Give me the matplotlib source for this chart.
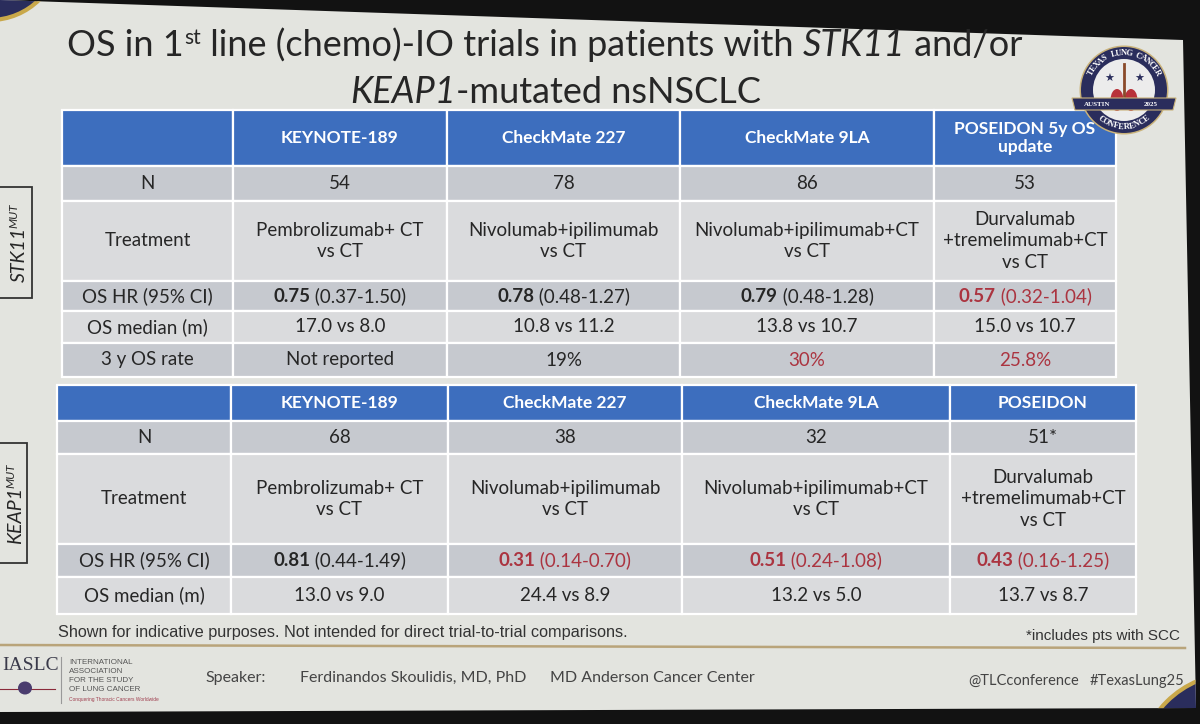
import numpy as np
import matplotlib
matplotlib.use("Agg")
import matplotlib.pyplot as plt
from matplotlib.patches import Rectangle, Polygon, Circle, Ellipse

FONT = ['Lato', 'DejaVu Sans']

# ---- data ----
row_labels_stk11 = ["N", "Treatment", "OS HR (95% CI)", "OS median (m)", "3 y OS rate"]
row_labels_keap1 = ["N", "Treatment", "OS HR (95% CI)", "OS median (m)"]

trials_stk11 = ["KEYNOTE-189", "CheckMate 227", "CheckMate 9LA", "POSEIDON 5y OS\nupdate"]
trials_keap1 = ["KEYNOTE-189", "CheckMate 227", "CheckMate 9LA", "POSEIDON"]

treatments = ["Pembrolizumab+ CT\nvs CT",
              "Nivolumab+ipilimumab\nvs CT",
              "Nivolumab+ipilimumab+CT\nvs CT",
              "Durvalumab\n+tremelimumab+CT\nvs CT"]

n_stk11 = ["54", "78", "86", "53"]
hr_stk11 = ["0.75", "0.78", "0.79", "0.57"]
ci_stk11 = ["0.37-1.50", "0.48-1.27", "0.48-1.28", "0.32-1.04"]
hr_red_stk11 = [False, False, False, True]
median_stk11 = ["17.0 vs 8.0", "10.8 vs 11.2", "13.8 vs 10.7", "15.0 vs 10.7"]
rate3y_stk11 = ["Not reported", "19%", "30%", "25.8%"]
rate3y_red_stk11 = [False, False, True, True]

n_keap1 = ["68", "38", "32", "51*"]
hr_keap1 = ["0.81", "0.31", "0.51", "0.43"]
ci_keap1 = ["0.44-1.49", "0.14-0.70", "0.24-1.08", "0.16-1.25"]
hr_red_keap1 = [False, True, True, True]
median_keap1 = ["13.0 vs 9.0", "24.4 vs 8.9", "13.2 vs 5.0", "13.7 vs 8.7"]

# ---- colours ----
BLUE = '#3d6ebe'
DARK_ROW = '#c6c9cf'
LIGHT_ROW = '#dadbdd'
SLIDE = '#e3e4df'
RED = '#ab3440'
TXT = '#262626'
NAVY = '#2a2d5c'
GOLD = '#c9a84a'

fig = plt.figure(figsize=(12, 7.24), dpi=100)
ax = fig.add_axes([0, 0, 1, 1])
ax.set_xlim(0, 1200)
ax.set_ylim(724, 0)
ax.axis('off')
fig.patch.set_facecolor('#121212')
renderer = fig.canvas.get_renderer()

# slide area (photo of a projected slide)
slide = Polygon([(0, 0), (1183, 40), (1196, 708), (0, 712)], closed=True,
                facecolor=SLIDE, edgecolor='none', zorder=0)
ax.add_patch(slide)
# corner decorations of the slide template
for cxy, rr in [((-10, -50), 70), ((1235, 770), 96.6)]:
    c = Circle(cxy, rr, facecolor=NAVY, edgecolor=GOLD, lw=3, zorder=0.5)
    ax.add_patch(c)
    c.set_clip_path(slide)


def seq(x, y, parts, size, ha='center', va='center'):
    # parts: (text, props, dy) drawn side by side on one line
    objs, widths = [], []
    for txt, props, dy in parts:
        kw = dict(fontsize=size, color=TXT, family=FONT)
        kw.update(props)
        t = ax.text(0, y + dy, txt, ha='left', va=va, zorder=5, **kw)
        widths.append(t.get_window_extent(renderer).width)
        objs.append(t)
    x0 = x - sum(widths) / 2 if ha == 'center' else x
    for t, wd in zip(objs, widths):
        t.set_x(x0)
        x0 += wd


def draw_table(cols, edges, trials, labels, n, hr, ci, hr_red, median,
               rate=None, rate_red=None):
    nrows = len(edges) - 1
    shades = [BLUE, DARK_ROW, LIGHT_ROW, DARK_ROW, LIGHT_ROW, DARK_ROW]
    for r in range(nrows):
        for c in range(len(cols) - 1):
            ax.add_patch(Rectangle((cols[c], edges[r]), cols[c + 1] - cols[c],
                                   edges[r + 1] - edges[r], facecolor=shades[r],
                                   edgecolor='white', lw=1.6, zorder=1))
    cx = [(cols[i] + cols[i + 1]) / 2 for i in range(len(cols) - 1)]
    cy = [(edges[i] + edges[i + 1]) / 2 for i in range(nrows)]
    for i, name in enumerate(trials):
        ax.text(cx[i + 1], cy[0], name, ha='center', va='center', color='white',
                fontsize=12.5, fontweight='bold', family=FONT, linespacing=1.1, zorder=5)
    for r, lab in enumerate(labels):
        ax.text(cx[0], cy[r + 1], lab, ha='center', va='center', color=TXT,
                fontsize=13.5, family=FONT, zorder=5)
    for i in range(len(trials)):
        ax.text(cx[i + 1], cy[1], n[i], ha='center', va='center', color=TXT,
                fontsize=13.5, family=FONT, zorder=5)
        ax.text(cx[i + 1], cy[2], treatments[i], ha='center', va='center', color=TXT,
                fontsize=13.5, family=FONT, linespacing=1.35, zorder=5)
        col = RED if hr_red[i] else TXT
        seq(cx[i + 1], cy[3], [(hr[i], dict(fontweight='bold', color=col), 0),
                               (" (" + ci[i] + ")", dict(color=col), 0)], 13.5)
        ax.text(cx[i + 1], cy[4], median[i], ha='center', va='center', color=TXT,
                fontsize=13.5, family=FONT, zorder=5)
        if rate is not None:
            ax.text(cx[i + 1], cy[5], rate[i], ha='center', va='center',
                    color=RED if rate_red[i] else TXT, fontsize=13.5, family=FONT, zorder=5)


def side_label(x, y, gene):
    t = ax.text(x, y, gene, rotation=90, ha='center', va='center', fontsize=14,
                style='italic', color=TXT, family=FONT, zorder=5)
    bb = t.get_window_extent(renderer)
    top = 724 - bb.y1
    ax.text(x - 5, top + 1, "MUT", rotation=90, ha='center', va='bottom', fontsize=8.5,
            style='italic', color=TXT, family=FONT, zorder=5)


# title
it = dict(style='italic')
seq(545, 56, [("OS in 1", {}, 0), ("st", dict(fontsize=15), -12),
              (" line (chemo)-IO trials in patients with ", {}, 0),
              ("STK11", it, 0), (" and/or", {}, 0)], 26, va='baseline')
seq(556, 103, [("KEAP1", it, 0), ("-mutated nsNSCLC", {}, 0)], 26, va='baseline')

cols1 = [62, 233, 447, 680, 934, 1116]
edges1 = [110, 166, 201, 281, 311, 343, 377]
draw_table(cols1, edges1, trials_stk11, row_labels_stk11, n_stk11, hr_stk11, ci_stk11,
           hr_red_stk11, median_stk11, rate3y_stk11, rate3y_red_stk11)

cols2 = [57, 231, 448, 682, 950, 1136]
edges2 = [385, 421, 454, 544, 577, 614]
draw_table(cols2, edges2, trials_keap1, row_labels_keap1, n_keap1, hr_keap1, ci_keap1,
           hr_red_keap1, median_keap1)

# side labels
ax.add_patch(Rectangle((-2, 187), 34, 111, facecolor='none', edgecolor='#333333', lw=1.3, zorder=3))
side_label(19, 254, "STK11")
ax.add_patch(Rectangle((-2, 443), 29, 120, facecolor='none', edgecolor='#333333', lw=1.3, zorder=3))
side_label(16, 515, "KEAP1")

# footnotes
ax.text(58, 633, "Shown for indicative purposes. Not intended for direct trial-to-trial comparisons.",
        ha='left', va='center', fontsize=11.7, color='#333333', family='Liberation Sans')
ax.text(1180, 636, "*includes pts with SCC", ha='right', va='center', fontsize=11,
        color='#333333', family='Liberation Sans')
ax.plot([0, 1185], [645, 648], color='#b9a47a', lw=1.8, zorder=2)

# footer
ax.text(2, 666, "IASLC", ha='left', va='center', fontsize=14, color='#3a3a4a', family='Liberation Serif')
ax.plot([0, 55], [689, 689], color='#8a2a3a', lw=0.8)
ax.add_patch(Ellipse((25, 688), 14, 13, facecolor='#4a3c6e', edgecolor='none', zorder=3))
ax.plot([61, 61], [657, 703], color='#999999', lw=0.8)
for k, line in enumerate(["INTERNATIONAL", "ASSOCIATION", "FOR THE STUDY", "OF LUNG CANCER"]):
    ax.text(69, 662 + 9.3 * k, line, ha='left', va='center', fontsize=5.8, color='#555555',
            family='Liberation Sans')
ax.text(69, 699, "Conquering Thoracic Cancers Worldwide", ha='left', va='center', fontsize=3.5,
        color='#a04050', family='Liberation Sans')
ax.text(205, 678, "Speaker:", ha='left', va='center', fontsize=11.5, color='#444444', family=FONT)
ax.text(300, 678, "Ferdinandos Skoulidis, MD, PhD", ha='left', va='center', fontsize=11.5,
        color='#444444', family=FONT)
ax.text(550, 678, "MD Anderson Cancer Center", ha='left', va='center', fontsize=11.5,
        color='#444444', family=FONT)
ax.text(968, 681, "@TLCconference", ha='left', va='center', fontsize=10.5, color='#444444', family=FONT)
ax.text(1090, 681, "#TexasLung25", ha='left', va='center', fontsize=10.5, color='#444444', family=FONT)

# conference logo (top right)
lx, ly, R = 1124, 90, 43
ax.add_patch(Circle((lx, ly), R + 1.5, facecolor='#c9b27a', edgecolor='none', zorder=3))
ax.add_patch(Circle((lx, ly), R, facecolor=NAVY, edgecolor='none', zorder=3))
ax.add_patch(Circle((lx, ly), R - 12, facecolor='#ececec', edgecolor='none', zorder=3))
ax.add_patch(Ellipse((lx - 7, ly + 10), 13, 22, facecolor='#b8323a', edgecolor='none', zorder=4))
ax.add_patch(Ellipse((lx + 7, ly + 10), 13, 22, facecolor='#b8323a', edgecolor='none', zorder=4))
ax.plot([lx, lx], [ly - 26, ly + 6], color='#8a4a2a', lw=2, zorder=4)
for sx in (-15, 15):
    ax.text(lx + sx, ly - 11, u"\u2605", ha='center', va='center', fontsize=8, color=NAVY,
            family='DejaVu Sans', zorder=5)
ax.add_patch(Polygon([(lx - 52, ly + 8), (lx + 52, ly + 8), (lx + 49, ly + 20), (lx - 49, ly + 20)],
                     closed=True, facecolor=NAVY, edgecolor='#c9b27a', lw=0.8, zorder=4))
ax.text(lx - 27, ly + 14, "AUSTIN", ha='center', va='center', fontsize=5, color='white',
        fontweight='bold', family='Liberation Serif', zorder=6)
ax.text(lx + 27, ly + 14, "2025", ha='center', va='center', fontsize=5, color='white',
        fontweight='bold', family='Liberation Serif', zorder=6)
top_word = "TEXAS LUNG CANCER"
angs = np.linspace(152, 28, len(top_word))
for ch, a in zip(top_word, angs):
    rad = np.deg2rad(a)
    ax.text(lx + (R - 6) * np.cos(rad), ly - (R - 6) * np.sin(rad), ch, rotation=a - 90,
            ha='center', va='center', fontsize=6, color='white', fontweight='bold',
            family='Liberation Serif', zorder=6)
bot_word = "CONFERENCE"
angs = np.linspace(232, 308, len(bot_word))
for ch, a in zip(bot_word, angs):
    rad = np.deg2rad(a)
    ax.text(lx + (R - 6) * np.cos(rad), ly - (R - 6) * np.sin(rad), ch, rotation=a + 90,
            ha='center', va='center', fontsize=6, color='white', fontweight='bold',
            family='Liberation Serif', zorder=6)

fig.savefig("out.png", dpi=100, facecolor=fig.get_facecolor())
